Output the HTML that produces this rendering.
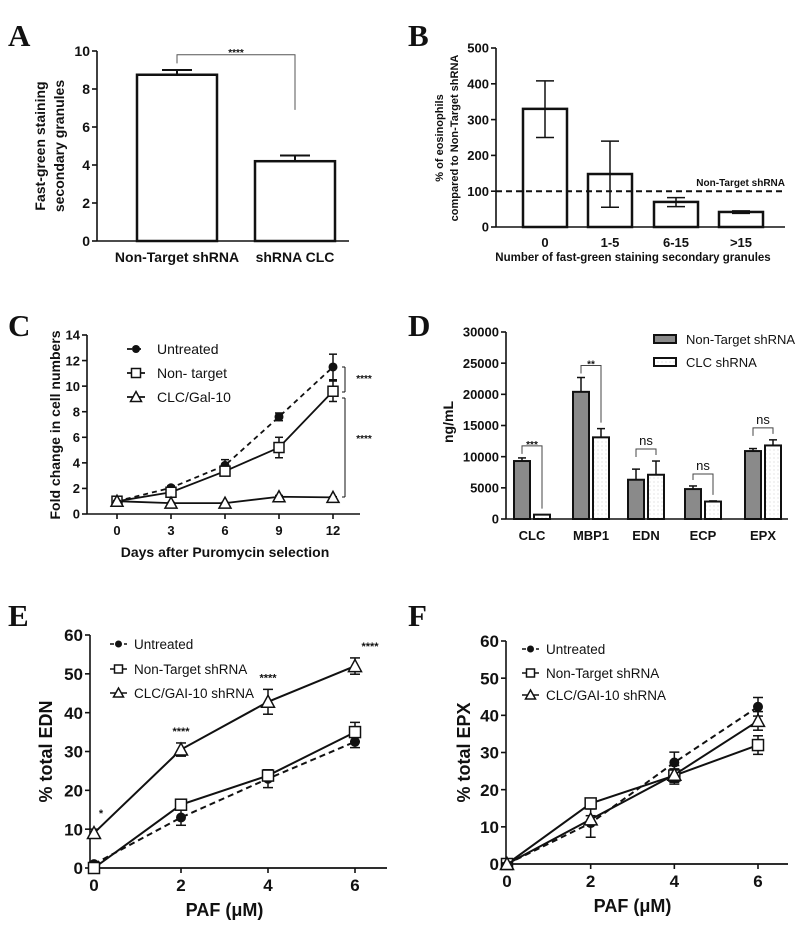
<!DOCTYPE html>
<html><head><meta charset="utf-8"><style>
html,body{margin:0;padding:0;background:#fff;}
svg{display:block;}
text{font-family:"Liberation Sans",Arial,sans-serif;fill:#111;}
.let{font-family:"Liberation Serif","Times New Roman",serif;font-size:31px;font-weight:bold;}
</style></head><body>
<svg id="fig" width="800" height="928" viewBox="0 0 800 928" xmlns="http://www.w3.org/2000/svg"></svg>
<script>
// ---- Panel A data ----
const aCats = ["Non-Target shRNA", "shRNA CLC"];
const aVals = [8.75, 4.2];
const aErr = [0.25, 0.3];
const aTicks = [0, 2, 4, 6, 8, 10];
// ---- Panel B data ----
const bCats = ["0", "1-5", "6-15", ">15"];
const bVals = [330, 148, 70, 42];
const bErrLo = [250, 55, 57, 38];
const bErrHi = [408, 240, 82, 45];
const bTicks = [0, 100, 200, 300, 400, 500];
const bRef = 100;
// ---- Panel C data ----
const cDays = [0, 3, 6, 9, 12];
const cUntreated = [1, 2.05, 3.8, 7.6, 11.5];
const cUntreatedErr = [0.1, 0.15, 0.45, 0.3, 1.0];
const cNonTarget = [1, 1.7, 3.35, 5.2, 9.6];
const cNonTargetErr = [0.1, 0.15, 0.2, 0.8, 0.8];
const cCLC = [1, 0.85, 0.85, 1.35, 1.3];
const cCLCErr = [0.05, 0.05, 0.05, 0.1, 0.05];
const cYTicks = [0, 2, 4, 6, 8, 10, 12, 14];
// ---- Panel D data ----
const dCats = ["CLC", "MBP1", "EDN", "ECP", "EPX"];
const dNonTarget = [9300, 20400, 6300, 4800, 10900];
const dNonTargetErr = [500, 2300, 1700, 500, 400];
const dCLC = [700, 13100, 7100, 2800, 11800];
const dCLCErr = [0, 1400, 2200, 100, 900];
const dSig = ["***", "**", "ns", "ns", "ns"];
const dYTicks = [0, 5000, 10000, 15000, 20000, 25000, 30000];
// ---- Panel E data ----
const ePAF = [0, 2, 4, 6];
const eUntreated = [1, 13, 23, 32.5];
const eUntreatedErr = [0.5, 2, 2.3, 1.5];
const eNonTarget = [0, 16.3, 23.8, 35];
const eNonTargetErr = [0.3, 0.8, 1, 2.5];
const eCLC = [9, 30.5, 42.8, 52];
const eCLCErr = [1, 1.7, 3.2, 2.1];
const eSig = ["*", "****", "****", "****"];
// ---- Panel F data ----
const fPAF = [0, 2, 4, 6];
const fUntreated = [0, 11, 27.3, 42.3];
const fUntreatedErr = [0.3, 3.8, 2.8, 2.5];
const fNonTarget = [0, 16.3, 23.8, 32];
const fNonTargetErr = [0.3, 0.8, 1.8, 2.5];
const fCLC = [0, 12, 24, 38.5];
const fCLCErr = [0.3, 1, 2.5, 2.5];
const pafTicks = [0, 2, 4, 6];
const pctTicks = [0, 10, 20, 30, 40, 50, 60];

const NS = "http://www.w3.org/2000/svg";
const svg = document.getElementById("fig");
function mk(tag, attrs, name, parent) {
  const el = document.createElementNS(NS, tag);
  for (const k in attrs) el.setAttribute(k, attrs[k]);
  
  
  (parent || svg).appendChild(el);
  return el;
}
function txt(x, y, s, size, name, anchor, extra) {
  const a = Object.assign({x: x, y: y, "font-size": size, "text-anchor": anchor || "middle", "font-weight": "bold"}, extra || {});
  const t = mk("text", a, name);
  t.textContent = s;
  return t;
}
function line(x1, y1, x2, y2, name, w, dash) {
  const a = {x1: x1, y1: y1, x2: x2, y2: y2, stroke: "#111", "stroke-width": w || 1.5};
  if (dash) a["stroke-dasharray"] = dash;
  return mk("line", a, name);
}
function lin(d0, d1, r0, r1) { return v => r0 + (v - d0) * (r1 - r0) / (d1 - d0); }
function yAxis(x, y0, y1, ticks, sc, size, name, fmt) {
  line(x, y0, x, y1, name + "-line", 1.6);
  ticks.forEach(t => {
    line(x - 5, sc(t), x, sc(t), name + "-tick", 1.6);
    txt(x - 7, sc(t) + size * 0.36, fmt ? fmt(t) : String(t), size, name + "-label", "end");
  });
}
function errBar(x, yLo, yHi, cap, name) {
  line(x, yLo, x, yHi, name, 1.5);
  line(x - cap, yHi, x + cap, yHi, name + "-cap", 1.5);
  line(x - cap, yLo, x + cap, yLo, name + "-cap", 1.5);
}
function marker(type, x, y, name, s) {
  s = s || 5;
  if (type === "circle") mk("circle", {cx: x, cy: y, r: s - 0.5, fill: "#111"}, name);
  else if (type === "square") mk("rect", {x: x - s, y: y - s, width: 2 * s, height: 2 * s, fill: "#fff", stroke: "#111", "stroke-width": 1.5}, name);
  else mk("polygon", {points: (x) + "," + (y - s - 1) + " " + (x + s + 1) + "," + (y + s) + " " + (x - s - 1) + "," + (y + s), fill: "#fff", stroke: "#111", "stroke-width": 1.5}, name);
}
function rotText(x, y, s, size, name) {
  const t = mk("text", {x: 0, y: 0, "font-size": size, "font-weight": "bold", "text-anchor": "middle", transform: "translate(" + x + "," + y + ") rotate(-90)"}, name);
  t.textContent = s;
}

// ================= Panel A =================
txt(8, 46, "A", 31, "panel-a-letter", "start", {class: "let"});
(function () {
  const sy = lin(0, 10, 241, 51);
  const cx = [177, 295];
  yAxis(97, 241, 51, aTicks, sy, 14, "a-y-axis");
  line(97, 241, 349, 241, "a-x-axis", 1.6);
  aCats.forEach((c, i) => {
    mk("rect", {x: cx[i] - 40, y: sy(aVals[i]), width: 80, height: 241 - sy(aVals[i]), fill: "#fff", stroke: "#111", "stroke-width": 2.5}, "a-bar-" + i);
    line(cx[i], sy(aVals[i]), cx[i], sy(aVals[i] + aErr[i]), "a-error-bar", 2);
    line(cx[i] - 15, sy(aVals[i] + aErr[i]), cx[i] + 15, sy(aVals[i] + aErr[i]), "a-error-cap", 2);
    txt(cx[i], 262, c, 14, "a-category-label");
  });
  mk("polyline", {points: cx[0] + "," + sy(9.35) + " " + cx[0] + "," + sy(9.8) + " " + cx[1] + "," + sy(9.8) + " " + cx[1] + "," + sy(6.9), fill: "none", stroke: "#555", "stroke-width": 1}, "a-significance-bracket");
  txt(236, 56, "****", 10, "a-significance-stars");
  rotText(45, 146, "Fast-green staining", 14, "a-y-axis-title");
  rotText(64, 146, "secondary granules", 14, "a-y-axis-title");
})();

// ================= Panel B =================
txt(408, 46, "B", 31, "panel-b-letter", "start", {class: "let"});
(function () {
  const sy = lin(0, 500, 227, 48);
  const cx = [545, 610, 676, 741];
  yAxis(496, 227, 48, bTicks, sy, 13, "b-y-axis");
  line(496, 227, 785, 227, "b-x-axis", 1.6);
  bCats.forEach((c, i) => {
    mk("rect", {x: cx[i] - 22, y: sy(bVals[i]), width: 44, height: 227 - sy(bVals[i]), fill: "#fff", stroke: "#111", "stroke-width": 2.5}, "b-bar-" + i);
    errBar(cx[i], sy(bErrLo[i]), sy(bErrHi[i]), 9, "b-error-bar");
    txt(cx[i], 247, c, 13, "b-category-label");
  });
  line(496, sy(bRef), 785, sy(bRef), "b-reference-line", 2, "6,4");
  txt(785, 186, "Non-Target shRNA", 10, "b-reference-label", "end");
  txt(633, 261, "Number of fast-green staining secondary granules", 11.5, "b-x-axis-title");
  rotText(443, 138, "% of eosinophils", 11, "b-y-axis-title");
  rotText(458, 138, "compared to Non-Target shRNA", 11, "b-y-axis-title");
})();

// ================= Panel C =================
txt(8, 336, "C", 31, "panel-c-letter", "start", {class: "let"});
(function () {
  const sy = lin(0, 14, 514, 335);
  const sx = lin(0, 12, 117, 333);
  yAxis(87, 514, 335, cYTicks, sy, 13, "c-y-axis");
  line(87, 514, 360, 514, "c-x-axis", 1.6);
  cDays.forEach(d => {
    line(sx(d), 514, sx(d), 519, "c-x-tick", 1.6);
    txt(sx(d), 535, String(d), 13, "c-x-tick-label");
  });
  const series = [
    {v: cUntreated, e: cUntreatedErr, m: "circle", dash: "5,4", n: "untreated"},
    {v: cNonTarget, e: cNonTargetErr, m: "square", dash: null, n: "non-target"},
    {v: cCLC, e: cCLCErr, m: "triangle", dash: null, n: "clc-gal10"}
  ];
  series.forEach(s => {
    const pts = cDays.map((d, i) => sx(d) + "," + sy(s.v[i])).join(" ");
    const a = {points: pts, fill: "none", stroke: "#111", "stroke-width": 1.8};
    if (s.dash) a["stroke-dasharray"] = s.dash;
    mk("polyline", a, "c-line-" + s.n);
    cDays.forEach((d, i) => {
      errBar(sx(d), sy(s.v[i] - s.e[i]), sy(s.v[i] + s.e[i]), 4, "c-error-" + s.n);
      marker(s.m, sx(d), sy(s.v[i]), "c-point-" + s.n, 5);
    });
  });
  const leg = [["Untreated", "circle", "5,4", 349], ["Non- target", "square", null, 373], ["CLC/Gal-10", "triangle", null, 397]];
  leg.forEach(l => {
    line(127, l[3], 145, l[3], "c-legend-line", 1.8, l[2]);
    marker(l[1], 136, l[3], "c-legend-marker", 4.5);
    txt(157, l[3] + 5, l[0], 14, "c-legend-entry", "start", {"font-weight": "normal"});
  });
  line(345, 367, 345, 392, "c-bracket", 1);
  line(342, 367, 345, 367, "c-bracket", 1);
  line(342, 392, 345, 392, "c-bracket", 1);
  txt(364, 382, "****", 10, "c-significance-stars");
  line(345, 398, 345, 497, "c-bracket", 1);
  line(342, 398, 345, 398, "c-bracket", 1);
  line(342, 497, 345, 497, "c-bracket", 1);
  txt(364, 442, "****", 10, "c-significance-stars");
  txt(225, 557, "Days after Puromycin selection", 14, "c-x-axis-title");
  rotText(60, 425, "Fold change in cell numbers", 14, "c-y-axis-title");
})();

// ================= Panel D =================
txt(408, 336, "D", 31, "panel-d-letter", "start", {class: "let"});
(function () {
  const sy = lin(0, 30000, 519, 332);
  const cx = [532, 591, 646, 703, 763];
  const defs = mk("defs", {}, "d-defs");
  const pat = mk("pattern", {id: "dots", width: 4, height: 4, patternUnits: "userSpaceOnUse"}, "d-dot-pattern", defs);
  mk("rect", {x: 0, y: 0, width: 4, height: 4, fill: "#fff"}, "d-pattern-bg", pat);
  mk("circle", {cx: 2, cy: 2, r: 0.5, fill: "#bbb"}, "d-pattern-dot", pat);
  yAxis(506, 519, 332, dYTicks, sy, 13, "d-y-axis");
  line(506, 519, 788, 519, "d-x-axis", 1.6);
  dCats.forEach((c, i) => {
    const g = cx[i] - 18, w = cx[i] + 2;
    mk("rect", {x: g, y: sy(dNonTarget[i]), width: 16, height: 519 - sy(dNonTarget[i]), fill: "#8a8a8a", stroke: "#111", "stroke-width": 2}, "d-bar-nontarget-" + c);
    mk("rect", {x: w, y: sy(dCLC[i]), width: 16, height: 519 - sy(dCLC[i]), fill: "url(#dots)", stroke: "#111", "stroke-width": 2}, "d-bar-clc-" + c);
    [[g + 8, dNonTarget[i], dNonTargetErr[i]], [w + 8, dCLC[i], dCLCErr[i]]].forEach(b => {
      if (b[2] > 0) {
        line(b[0], sy(b[1]), b[0], sy(b[1] + b[2]), "d-error-bar", 1.5);
        line(b[0] - 4, sy(b[1] + b[2]), b[0] + 4, sy(b[1] + b[2]), "d-error-cap", 1.5);
      }
    });
    txt(cx[i], 540, c, 13, "d-category-label");
    const top = Math.max(dNonTarget[i] + dNonTargetErr[i], dCLC[i] + dCLCErr[i]);
    const by = sy(top) - 12;
    const ns = dSig[i] === "ns";
    const yl = ns ? sy(dNonTarget[i] + dNonTargetErr[i]) - 6 : by + 8;
    const yr = sy(dCLC[i] + dCLCErr[i]) - 6;
    mk("polyline", {points: (g + 8) + "," + Math.min(yl, by + 8) + " " + (g + 8) + "," + by + " " + (w + 8) + "," + by + " " + (w + 8) + "," + yr, fill: "none", stroke: "#444", "stroke-width": 1}, "d-significance-bracket");
    txt(cx[i], by - (ns ? 4 : -2), dSig[i], ns ? 13 : 10, "d-significance-label", "middle", ns ? {"font-weight": "normal"} : {});
  });
  mk("rect", {x: 654, y: 335, width: 22, height: 8, fill: "#8a8a8a", stroke: "#111", "stroke-width": 2}, "d-legend-swatch-nontarget");
  txt(686, 344, "Non-Target shRNA", 13, "d-legend-entry", "start", {"font-weight": "normal"});
  mk("rect", {x: 654, y: 358, width: 22, height: 8, fill: "url(#dots)", stroke: "#111", "stroke-width": 2}, "d-legend-swatch-clc");
  txt(686, 367, "CLC shRNA", 13, "d-legend-entry", "start", {"font-weight": "normal"});
  rotText(453, 422, "ng/mL", 14, "d-y-axis-title");
})();

// ================= Panels E & F =================
function pafPanel(p, ox, xAx, x0, x6, y60, y0, xEnd, data, yTitle, yTitleX, legX, legY, sig) {
  const sy = lin(0, 60, y0, y60);
  const sx = lin(0, 6, x0, x6);
  yAxis(xAx, y0, y60, pctTicks, sy, 17, p + "-y-axis");
  line(xAx, y0, xEnd, y0, p + "-x-axis", 1.8);
  pafTicks.forEach(t => {
    line(sx(t), y0, sx(t), y0 + 5, p + "-x-tick", 1.6);
    txt(sx(t), y0 + 23, String(t), 17, p + "-x-tick-label");
  });
  data.forEach(s => {
    const pts = s.x.map((d, i) => sx(d) + "," + sy(s.v[i])).join(" ");
    const a = {points: pts, fill: "none", stroke: "#111", "stroke-width": 2};
    if (s.dash) a["stroke-dasharray"] = s.dash;
    mk("polyline", a, p + "-line-" + s.n);
    s.x.forEach((d, i) => {
      errBar(sx(d), sy(Math.max(0, s.v[i] - s.e[i])), sy(s.v[i] + s.e[i]), 5, p + "-error-" + s.n);
      marker(s.m, sx(d), sy(s.v[i]), p + "-point-" + s.n, 5.5);
    });
  });
  if (sig) {
    const cl = data[2];
    cl.x.forEach((d, i) => {
      txt(sx(d) + (i === 0 ? 7 : (i === 3 ? 15 : 0)), sy(cl.v[i] + cl.e[i]) - 8 - (i === 0 ? 4 : 0), sig[i], 11, p + "-significance-stars");
    });
  }
  const leg = [["Untreated", "circle", "4,3"], ["Non-Target shRNA", "square", null], ["CLC/GAI-10 shRNA", "triangle", null]];
  leg.forEach((l, i) => {
    const yy = legY[i];
    line(legX, yy, legX + 17, yy, p + "-legend-line", 1.6, l[2]);
    marker(l[1], legX + 8.5, yy, p + "-legend-marker", 4);
    txt(legX + 24, yy + 5, l[0], 13.5, p + "-legend-entry", "start", {"font-weight": "normal"});
  });
  txt((x0 + x6) / 2, y0 + 48, "PAF (\u03bcM)", 18, p + "-x-axis-title");
  rotText(yTitleX, (y0 + y60) / 2, yTitle, 18, p + "-y-axis-title");
}
txt(8, 626, "E", 31, "panel-e-letter", "start", {class: "let"});
pafPanel("e", 0, 90, 94, 355, 635, 868, 387, [
  {x: ePAF, v: eUntreated, e: eUntreatedErr, m: "circle", dash: "6,4", n: "untreated"},
  {x: ePAF, v: eNonTarget, e: eNonTargetErr, m: "square", dash: null, n: "non-target"},
  {x: ePAF, v: eCLC, e: eCLCErr, m: "triangle", dash: null, n: "clc-gal10"}
], "% total EDN", 52, 110, [644, 669, 693], eSig);
txt(408, 626, "F", 31, "panel-f-letter", "start", {class: "let"});
pafPanel("f", 400, 506, 507, 758, 641, 864, 788, [
  {x: fPAF, v: fUntreated, e: fUntreatedErr, m: "circle", dash: "6,4", n: "untreated"},
  {x: fPAF, v: fNonTarget, e: fNonTargetErr, m: "square", dash: null, n: "non-target"},
  {x: fPAF, v: fCLC, e: fCLCErr, m: "triangle", dash: null, n: "clc-gal10"}
], "% total EPX", 470, 522, [649, 673, 695], null);
</script>
</body></html>
